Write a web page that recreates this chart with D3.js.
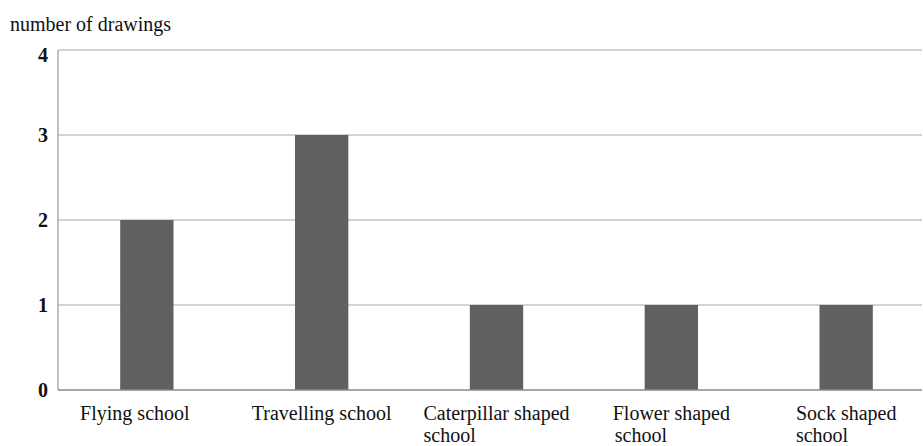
<!DOCTYPE html>
<html><head><meta charset="utf-8">
<script src="https://cdn.jsdelivr.net/npm/d3@7"></script>
<style>body{margin:0;background:#fff}svg{display:block}text{font-family:"Liberation Serif","Times New Roman",serif}</style>
</head><body><svg id="c" width="923" height="446"></svg>
<script>
const categories = [["Flying school"],["Travelling school"],["Caterpillar shaped","school"],["Flower shaped","school"],["Sock shaped","school"]];
const values = [2,3,1,1,1];
const yTicks = [0,1,2,3,4];
const yTitle = "number of drawings";

const svg = d3.select("#c");
const mLeft = 58, mRight = 922, mTop = 50, mBottom = 390;
const x = d3.scaleBand().domain(d3.range(categories.length)).range([59, 934]).paddingInner(0.695).paddingOuter(0.35);
const y = d3.scaleLinear().domain([0,4]).range([mBottom, mTop]);

// gridlines
svg.append("g").selectAll("line").data(yTicks.filter(d=>d>0)).join("line")
  .attr("x1", mLeft).attr("x2", mRight).attr("y1", d=>y(d)).attr("y2", d=>y(d))
  .attr("stroke", "#a8a8a8").attr("stroke-width", 1.2);
// left frame
svg.append("line").attr("x1", mLeft).attr("x2", mLeft).attr("y1", mTop).attr("y2", mBottom).attr("stroke","#9a9a9a").attr("stroke-width",1.2);

// bars
svg.append("g").selectAll("rect").data(values).join("rect")
  .attr("x", (d,i)=>x(i)).attr("width", x.bandwidth())
  .attr("y", d=>y(d)).attr("height", d=>y(0)-y(d))
  .attr("fill", "#606060");

// baseline
svg.append("line").attr("x1", mLeft).attr("x2", mRight).attr("y1", mBottom).attr("y2", mBottom).attr("stroke","#8a8a8a").attr("stroke-width",1.5);

// y axis labels
const yAxis = d3.axisLeft(y).tickValues(yTicks).tickSize(0).tickPadding(10).tickFormat(d3.format("d"));
const ga = svg.append("g").attr("transform", `translate(${mLeft},0)`).call(yAxis);
ga.select(".domain").remove();
ga.selectAll("text").attr("font-size", 20).attr("font-weight", "bold").attr("fill", "#111")
  .attr("dy", (d)=> d===4 ? "0.55em" : "0.32em")
  .style("font-family", '"Liberation Serif",serif');

// title
svg.append("text").attr("x", 10).attr("y", 31).attr("font-size", 20).attr("fill", "#111").text(yTitle);

// category labels
const lg = svg.append("g");
categories.forEach((lines, i) => {
  const cx = x(i) + x.bandwidth()/2 - (i===0 ? 12 : 0);
  const t1 = lg.append("text").attr("x", cx).attr("y", 420).attr("text-anchor","middle")
    .attr("font-size", 20).attr("fill", "#111").text(lines[0]);
  if (lines[1]) {
    const w = t1.node().getComputedTextLength();
    lg.append("text").attr("x", cx - w/2 + (i===3?2:0)).attr("y", 442).attr("font-size", 20).attr("fill","#111").text(lines[1]);
  }
});
</script></body></html>
